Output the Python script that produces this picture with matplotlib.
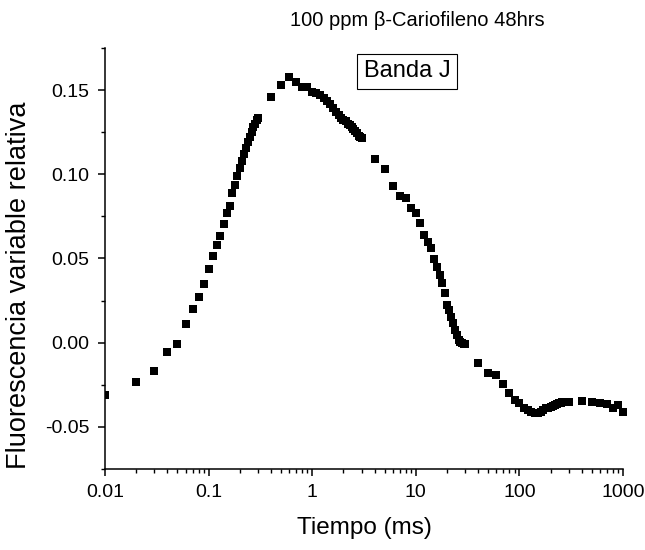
import numpy as np
import matplotlib.pyplot as plt
from matplotlib.ticker import FixedLocator, FuncFormatter, MultipleLocator

plt.rcParams['font.family'] = ['Liberation Sans', 'DejaVu Sans']

# tiempo (ms) y fluorescencia variable relativa
t_fast = [0.01, 0.02, 0.03, 0.04, 0.05, 0.06, 0.07, 0.08, 0.09, 0.10,
          0.11, 0.12, 0.13, 0.14, 0.15, 0.16, 0.17, 0.18, 0.19, 0.20,
          0.21, 0.22, 0.23, 0.24, 0.25, 0.26, 0.27, 0.28, 0.29, 0.30]
v_fast = [-0.031, -0.0235, -0.0166, -0.0053, -0.0006, 0.0111, 0.0199, 0.0272, 0.035, 0.0438,
          0.0515, 0.058, 0.0634, 0.0705, 0.0770, 0.0814, 0.0888, 0.0937, 0.099, 0.1035,
          0.108, 0.112, 0.1155, 0.119, 0.122, 0.125, 0.128, 0.130, 0.132, 0.1335]

t_mid = [0.4, 0.5, 0.6, 0.7, 0.8, 0.9, 1.0, 1.1, 1.2, 1.3, 1.4, 1.5, 1.6, 1.7,
         1.8, 1.9, 2.0, 2.1, 2.2, 2.3, 2.4, 2.5, 2.6, 2.7, 2.8, 2.9, 3.0]
v_mid = [0.146, 0.1533, 0.158, 0.155, 0.152, 0.152, 0.149, 0.1485, 0.147, 0.145, 0.1435, 0.142, 0.1395, 0.137,
         0.135, 0.1335, 0.1325, 0.1315, 0.130, 0.129, 0.128, 0.127, 0.1255, 0.1245, 0.123, 0.122, 0.1213]

t_slow = [4, 5, 6, 7, 8, 9, 10, 11, 12, 13, 14, 15, 16, 17, 18, 19, 20,
          21, 22, 23, 24, 25, 26, 27, 28, 29, 30]
v_slow = [0.109, 0.103, 0.093, 0.087, 0.086, 0.080, 0.077, 0.0713, 0.064, 0.060, 0.056, 0.0496, 0.0452, 0.0402,
          0.0353, 0.0294, 0.0224, 0.0195, 0.0155, 0.0116, 0.0076, 0.0046, 0.0016, 0.0005, -0.0002, -0.0005, -0.0008]

t_tail = [40, 50, 60, 70, 80, 90, 100, 110, 120, 130, 140, 150, 160, 170, 180, 190, 200,
          210, 220, 230, 240, 250, 260, 270, 280, 290, 300,
          400, 500, 600, 700, 800, 900, 1000]
v_tail = [-0.0118, -0.0181, -0.0194, -0.0245, -0.030, -0.034, -0.036, -0.039, -0.040, -0.041, -0.0415, -0.0415,
          -0.041, -0.040, -0.039, -0.0385, -0.038, -0.0375, -0.037, -0.0365, -0.036, -0.036, -0.0355, -0.0355,
          -0.0355, -0.035, -0.035,
          -0.0347, -0.035, -0.0356, -0.0366, -0.039, -0.037, -0.041]

t = np.array(t_fast + t_mid + t_slow + t_tail)
v = np.array(v_fast + v_mid + v_slow + v_tail)

x_ticks = [0.01, 0.1, 1, 10, 100, 1000]
y_ticks = [-0.05, 0.0, 0.05, 0.10, 0.15]

fig = plt.figure(figsize=(6.45, 5.5), dpi=100)
ax = fig.add_axes([0.1628, 0.1473, 0.8031, 0.7655])

# first point sits on the left axis and is cut by it, the rest are drawn whole
ax.plot(t[:1], v[:1], 's', color='black', markersize=5.8, markeredgewidth=0, clip_on=True)
ax.plot(t[1:], v[1:], 's', color='black', markersize=5.8, markeredgewidth=0, clip_on=False)

ax.set_xscale('log')
ax.set_xlim(0.01, 1000)
ax.set_ylim(-0.075, 0.175)

ax.xaxis.set_major_locator(FixedLocator(x_ticks))
ax.xaxis.set_major_formatter(FuncFormatter(lambda x, p: f"{x:g}"))
minors = [m * 10.0 ** e for e in range(-2, 3) for m in range(2, 10)]
ax.xaxis.set_minor_locator(FixedLocator(minors))
ax.yaxis.set_major_locator(FixedLocator(y_ticks))
ax.yaxis.set_minor_locator(MultipleLocator(0.025))
ax.yaxis.set_major_formatter(FuncFormatter(lambda y, p: f"{y:.2f}"))

for s in ['top', 'right']:
    ax.spines[s].set_visible(False)
for s in ['left', 'bottom']:
    ax.spines[s].set_linewidth(1.1)

ax.tick_params(which='major', direction='out', length=5, width=1.1, labelsize=14, pad=6)
ax.tick_params(which='minor', direction='out', length=3, width=1.0)

ax.text(0.583, 0.945, 'Banda J', transform=ax.transAxes, fontsize=17,
        ha='center', va='center',
        bbox=dict(boxstyle='square,pad=0.28', facecolor='white', edgecolor='black', linewidth=0.8))

fig.text(0.6465, 0.963, '100 ppm \u03b2-Cariofileno 48hrs', fontsize=14.5, ha='center', va='center')
fig.text(0.565, 0.04, 'Tiempo (ms)', fontsize=17.5, ha='center', va='center')
fig.text(0.03, 0.482, 'Fluorescencia variable relativa', fontsize=19.5, ha='center', va='center',
         rotation=90)

plt.savefig('out.png', dpi=100)
